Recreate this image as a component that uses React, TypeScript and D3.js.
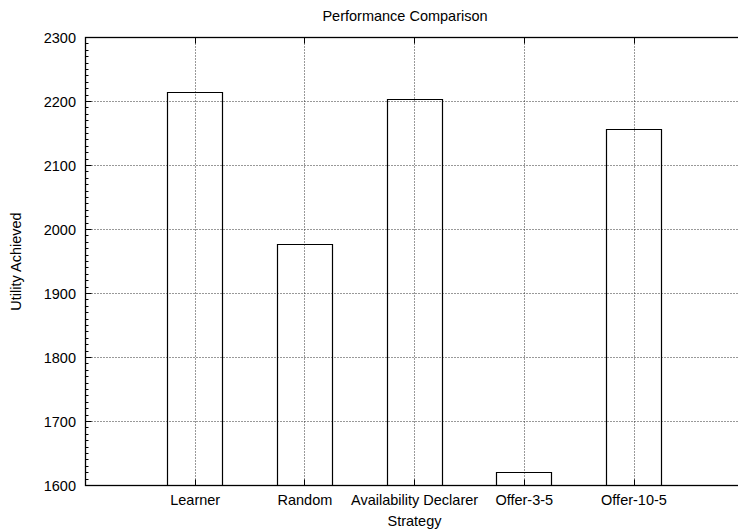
import React from "react";
import * as d3 from "d3";

const categories = ["Learner", "Random", "Availability Declarer", "Offer-3-5", "Offer-10-5"];
const values = [2214, 1976, 2203, 1620, 2157];
const yTicks = [1600, 1700, 1800, 1900, 2000, 2100, 2200, 2300];

const W = 738;
const H = 529;
const FONT = "'Liberation Sans', Arial, Helvetica, sans-serif";

export default function App() {
  const left = 85.5;
  const top = 37.5;
  const bottom = 485.5;
  const unit = 109.7;
  const x = d3.scaleLinear().domain([-1, 5]).range([left, left + 6 * unit]);
  const y = d3.scaleLinear().domain([1600, 2300]).range([bottom, top]);
  const right = x(5);
  const minorTicks = d3.range(1600, 2300.001, 10).filter((v) => v % 100 !== 0);
  const barW = x(0.5) - x(0);
  const fs = 14.5;
  const py = (v: number) => Math.round(y(v) - 0.5) + 0.5;
  const px = (v: number) => Math.round(v - 0.5) + 0.5;

  return (
    <div style={{ position: "absolute", left: 0, top: 0 }}>
      <svg width={W} height={H} style={{ display: "block", background: "#fff" }}>
        <rect x={0} y={0} width={W} height={H} fill="#fff" />
        {/* grid */}
        <g stroke="#000" strokeWidth={1} strokeDasharray="1,2" opacity={0.8}>
          {yTicks.slice(1, -1).map((v) => (
            <line key={"gy" + v} x1={left} x2={right} y1={py(v)} y2={py(v)} />
          ))}
          {categories.map((c, i) => (
            <line key={"gx" + c} x1={px(x(i))} x2={px(x(i))} y1={top} y2={bottom} />
          ))}
        </g>
        {/* bars */}
        <g fill="none" stroke="#000" strokeWidth={1.2}>
          {values.map((v, i) => {
            const x0 = px(x(i) - barW / 2);
            const x1 = px(x(i) + barW / 2);
            const yt = py(v);
            return <path key={"b" + i} d={`M${x0},${bottom}V${yt}H${x1}V${bottom}`} />;
          })}
        </g>
        {/* ticks */}
        <g stroke="#000" strokeWidth={1}>
          {yTicks.map((v) => (
            <line key={"ty" + v} x1={left} x2={left + 6} y1={py(v)} y2={py(v)} />
          ))}
          {minorTicks.map((v) => (
            <line key={"my" + v} x1={left} x2={left + 3} y1={py(v)} y2={py(v)} />
          ))}
          {categories.map((c, i) => (
            <g key={"tx" + c}>
              <line x1={px(x(i))} x2={px(x(i))} y1={bottom} y2={bottom - 6} />
              <line x1={px(x(i))} x2={px(x(i))} y1={top} y2={top + 6} />
            </g>
          ))}
        </g>
        {/* frame */}
        <rect x={left} y={top} width={right - left} height={bottom - top} fill="none" stroke="#000" strokeWidth={1.3} />
        {/* labels */}
        <g fontFamily={FONT} fontSize={fs} fill="#000">
          {yTicks.map((v) => (
            <text key={"ly" + v} x={76} y={y(v)} textAnchor="end" dominantBaseline="central">
              {v}
            </text>
          ))}
          {categories.map((c, i) => (
            <text key={"lx" + c} x={x(i)} y={505} textAnchor="middle">
              {c}
            </text>
          ))}
          <text x={405} y={21} textAnchor="middle">Performance Comparison</text>
          <text x={414.5} y={526} textAnchor="middle">Strategy</text>
          <text transform={`translate(21,${(top + bottom) / 2}) rotate(-90)`} textAnchor="middle">
            Utility Achieved
          </text>
        </g>
      </svg>
    </div>
  );
}
